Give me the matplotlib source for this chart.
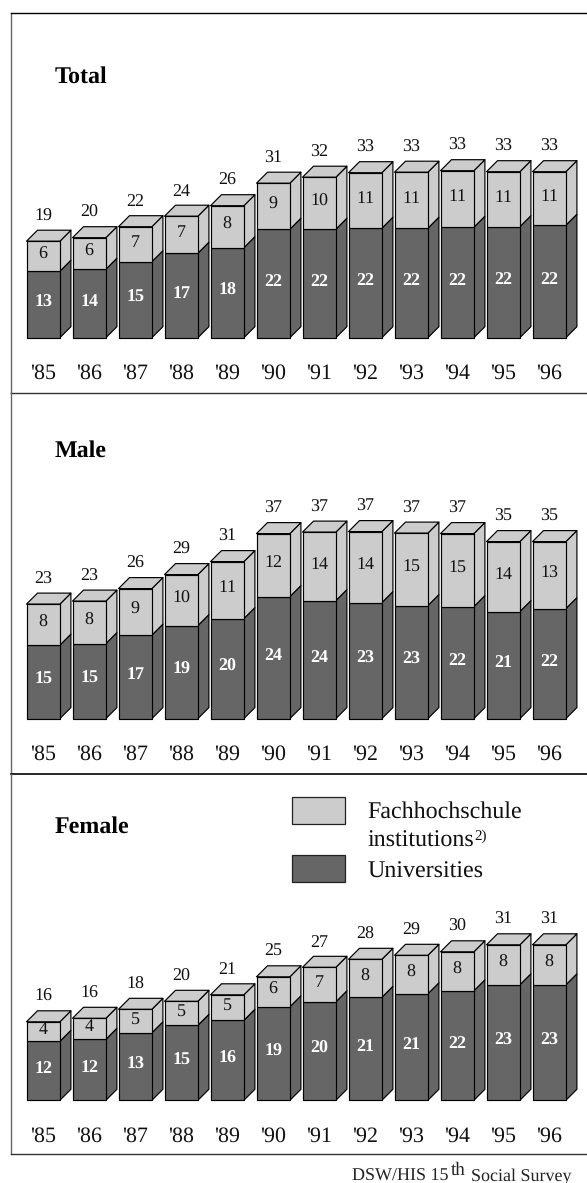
import matplotlib
matplotlib.use("Agg")
import matplotlib.pyplot as plt
from matplotlib.patches import Polygon, Rectangle

plt.rcParams['font.family'] = ['Liberation Serif', 'DejaVu Serif']
plt.rcParams['text.hinting'] = 'no_hinting'
plt.rcParams['text.hinting_factor'] = 1

years = ["'85", "'86", "'87", "'88", "'89", "'90", "'91", "'92", "'93", "'94", "'95", "'96"]

# Heights (estimated to one decimal)
total_uni = [13.3, 13.7, 15.2, 16.9, 18.0, 21.7, 21.7, 21.9, 21.9, 22.1, 22.2, 22.5]
total_fh = [6.0, 6.3, 7.0, 7.4, 8.4, 9.2, 10.4, 11.1, 11.2, 11.3, 11.0, 10.7]
male_uni = [14.7, 15.0, 16.7, 18.6, 20.0, 24.4, 23.6, 23.2, 22.6, 22.4, 21.4, 22.0]
male_fh = [8.2, 8.5, 9.3, 10.2, 11.4, 12.6, 13.7, 14.2, 14.5, 14.6, 14.0, 13.4]
female_uni = [11.8, 12.2, 13.5, 15.0, 16.0, 18.7, 19.7, 20.6, 21.3, 21.9, 23.1, 23.1]
female_fh = [3.9, 4.2, 4.7, 4.8, 5.1, 6.0, 6.9, 7.6, 7.7, 7.8, 8.0, 8.0]

# Printed labels
total_uni_lab = [13, 14, 15, 17, 18, 22, 22, 22, 22, 22, 22, 22]
total_fh_lab = [6, 6, 7, 7, 8, 9, 10, 11, 11, 11, 11, 11]
total_sum_lab = [19, 20, 22, 24, 26, 31, 32, 33, 33, 33, 33, 33]
male_uni_lab = [15, 15, 17, 19, 20, 24, 24, 23, 23, 22, 21, 22]
male_fh_lab = [8, 8, 9, 10, 11, 12, 14, 14, 15, 15, 14, 13]
male_sum_lab = [23, 23, 26, 29, 31, 37, 37, 37, 37, 37, 35, 35]
female_uni_lab = [12, 12, 13, 15, 16, 19, 20, 21, 21, 22, 23, 23]
female_fh_lab = [4, 4, 5, 5, 5, 6, 7, 8, 8, 8, 8, 8]
female_sum_lab = [16, 16, 18, 20, 21, 25, 27, 28, 29, 30, 31, 31]

W, H = 587, 1183
LIGHT, DARK = '#cccccc', '#666666'
PX_PER_UNIT = 5.0      # vertical pixels per value unit
STEP = 46.0            # horizontal pixels per year
X0 = 43.2              # pixel centre of first bar
FRAME_L = 11.0
BAR_W = 33.4 / STEP
DX = 11.0 / STEP
DY = 11.0 / PX_PER_UNIT

fig = plt.figure(figsize=(W / 100, H / 100), dpi=100, facecolor='white')


def make_axes(top, bottom, base):
    ax = fig.add_axes([FRAME_L / W, 1 - bottom / H, (W - FRAME_L) / W, (bottom - top) / H])
    ax.set_xlim((FRAME_L - X0) / STEP, (W - X0) / STEP)
    ax.set_ylim((base - bottom) / PX_PER_UNIT, (base - top) / PX_PER_UNIT)
    ax.set_xticks([])
    ax.set_yticks([])
    ax.patch.set_visible(False)
    return ax


def poly(ax, pts, color, z):
    ax.add_patch(Polygon(pts, closed=True, facecolor=color, edgecolor='black',
                         linewidth=0.85, joinstyle='round', zorder=z))


def draw_panel(ax, title, title_y, uni, fh, uni_lab, fh_lab, sum_lab):
    for i, (u, f) in enumerate(zip(uni, fh)):
        l, r = i - BAR_W / 2, i + BAR_W / 2
        t = u + f
        z = 2 + i
        poly(ax, [(r, 0), (r + DX, DY), (r + DX, u + DY), (r, u)], DARK, z)
        poly(ax, [(r, u), (r + DX, u + DY), (r + DX, t + DY), (r, t)], LIGHT, z)
        poly(ax, [(l, t), (l + DX, t + DY), (r + DX, t + DY), (r, t)], LIGHT, z)
        poly(ax, [(l, 0), (r, 0), (r, u), (l, u)], DARK, z)
        poly(ax, [(l, u), (r, u), (r, t), (l, t)], LIGHT, z)
        ax.text(i, u / 2 + 0.45, str(uni_lab[i]), color='white', fontweight='bold',
                fontsize=12.8, ha='center', va='center', zorder=30)
        ax.text(i, u + f / 2 + 0.4, str(fh_lab[i]), color='#111111',
                fontsize=12.8, ha='center', va='center', zorder=30)
        ax.text(i, t + 5.0, str(sum_lab[i]), color='#111111',
                fontsize=12.8, ha='center', va='center', zorder=30)
        ax.text(i + 0.005, -8.2, years[i], color='#111111', fontsize=15.5,
                ha='center', va='baseline', zorder=30)
    fig.text(54.5 / W, 1 - title_y / H, title, fontweight='bold', fontsize=17,
             color='black', ha='left', va='baseline')


ax1 = make_axes(12.5, 393, 337.7)
ax2 = make_axes(393, 774, 718.6)
ax3 = make_axes(774, 1154, 1100.3)

draw_panel(ax1, 'Total', 82.5, total_uni, total_fh, total_uni_lab, total_fh_lab, total_sum_lab)
draw_panel(ax2, 'Male', 457, male_uni, male_fh, male_uni_lab, male_fh_lab, male_sum_lab)
draw_panel(ax3, 'Female', 832.5, female_uni, female_fh, female_uni_lab, female_fh_lab, female_sum_lab)

for ax, bottom_color, lw in ((ax1, '#333333', 1.0), (ax2, 'black', 1.2), (ax3, '#333333', 1.0)):
    ax.spines['right'].set_visible(False)
    ax.spines['top'].set_visible(False)
    ax.spines['left'].set_color('#666666')
    ax.spines['left'].set_linewidth(1.0)
    ax.spines['bottom'].set_color(bottom_color)
    ax.spines['bottom'].set_linewidth(lw)
ax1.spines['top'].set_visible(True)
ax1.spines['top'].set_color('black')
ax1.spines['top'].set_linewidth(1.0)

# Legend
for (x0, y0, x1, y1), c in (((292.3, 797.3, 344.7, 823.7), LIGHT),
                            ((292.3, 855.3, 345.3, 882.3), DARK)):
    fig.add_artist(Rectangle((x0 / W, 1 - y1 / H), (x1 - x0) / W, (y1 - y0) / H,
                             transform=fig.transFigure, facecolor=c,
                             edgecolor='#222222', linewidth=0.9, zorder=40))
LEG_X = 367.3 / W
fig.text(LEG_X, 1 - 818 / H, 'Fachhochschule', fontsize=17, color='#111111', va='baseline')
fig.text(LEG_X, 1 - 847 / H, 'institutions', fontsize=17, color='#111111', va='baseline')
fig.text(474 / W, 1 - 839.5 / H, '2)', fontsize=10.5, color='#111111', va='baseline')
fig.text(LEG_X, 1 - 877.7 / H, 'Universities', fontsize=17, color='#111111', va='baseline')

# Source
fig.text(351.7 / W, 1 - 1181 / H, 'DSW/HIS 15', fontsize=13, color='#222222', va='baseline')
fig.text(450.5 / W, 1 - 1175 / H, 'th', fontsize=13.5, color='#222222', va='baseline')
fig.text(470.7 / W, 1 - 1181 / H, 'Social Survey', fontsize=13, color='#222222', va='baseline')

fig.savefig('out.png', dpi=100, facecolor='white')
